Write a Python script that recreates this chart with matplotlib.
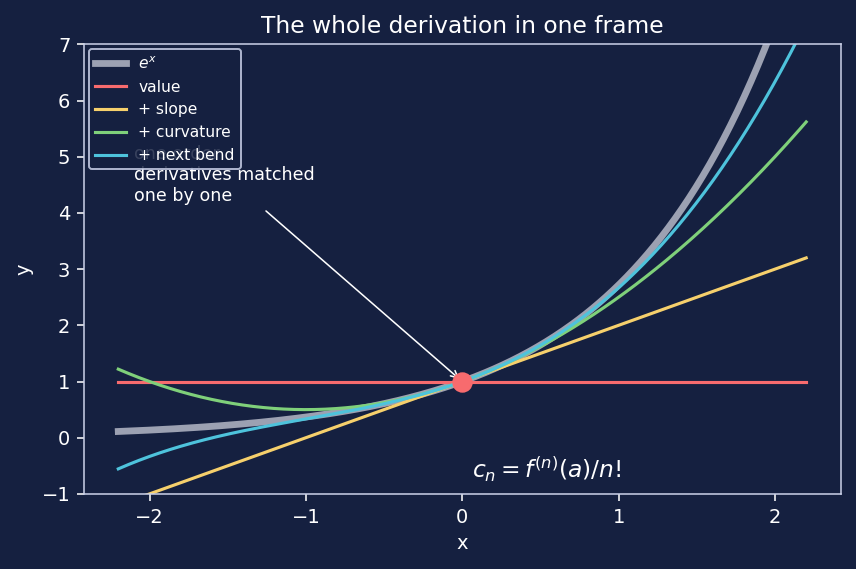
import numpy as np
import matplotlib.pyplot as plt

BG = '#152040'
FG = '#ffffff'
SPINE = '#c9d0e8'

# x range of the curves and Taylor coefficients around a = 0
X_MIN, X_MAX = -2.2, 2.2
COEFFS = [1.0, 1.0, 1 / 2, 1 / 6]
LABELS = ['value', '+ slope', '+ curvature', '+ next bend']
COLORS = ['#f76b6e', '#f6d06c', '#7fd07a', '#4ec3dc']
ANCHOR = (0.0, 1.0)

x = np.linspace(X_MIN, X_MAX, 400)

fig, ax = plt.subplots(figsize=(856 / 140, 569 / 140), dpi=140)
fig.patch.set_facecolor(BG)
ax.set_facecolor(BG)

ax.plot(x, np.exp(x), color='#9ca1b2', lw=3.5, label='$e^x$')
for k, (lab, col) in enumerate(zip(LABELS, COLORS)):
    # partial sum of the series up to order k
    y = sum(c * x**n for n, c in enumerate(COEFFS[:k + 1]))
    ax.plot(x, y, color=col, lw=1.6, label=lab)

ax.plot(*ANCHOR, 'o', color='#f76b6e', ms=9.5, zorder=5)

ax.annotate('one order\nderivatives matched\none by one', xy=ANCHOR,
            xytext=(-2.1, 4.15), va='bottom', ha='left', color=FG, fontsize=9,
            arrowprops=dict(arrowstyle='->', color=FG, lw=0.8))
ax.text(0.06, -0.72, r'$c_n = f^{(n)}(a)/n!$', color=FG, fontsize=12)

ax.set_ylim(-1, 7)
ax.set_xlim(-2.42, 2.42)
ax.set_title('The whole derivation in one frame', color=FG, fontsize=12)
ax.set_xlabel('x', color=FG, fontsize=10)
ax.set_ylabel('y', color=FG, fontsize=10)
ax.tick_params(colors=FG, labelsize=10)
for tl in ax.get_xticklines() + ax.get_yticklines():
    tl.set_color(SPINE)
for s in ax.spines.values():
    s.set_color(SPINE)

leg = ax.legend(loc='upper left', fontsize=8, facecolor=BG, edgecolor=SPINE,
                framealpha=0.85, borderaxespad=0.3)
for t in leg.get_texts():
    t.set_color(FG)

fig.subplots_adjust(left=0.098, right=0.982, top=0.922, bottom=0.132)
fig.savefig('out.png', dpi=140, facecolor=BG)
